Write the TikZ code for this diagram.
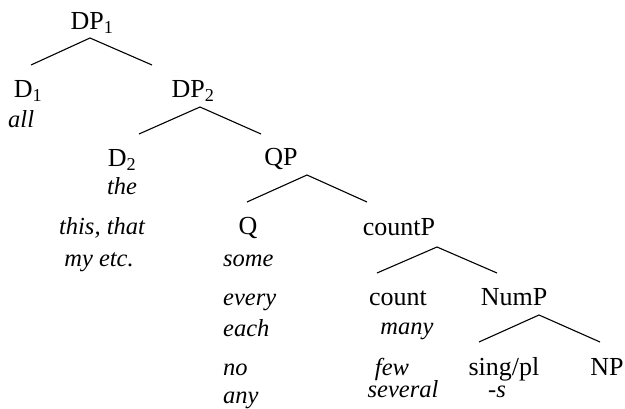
\documentclass[tikz,border=0pt]{standalone}
\usepackage{fontspec}
\setmainfont{Liberation Serif}
\begin{document}
\begin{tikzpicture}[x=1pt,y=-1pt,
  lab/.style={anchor=base,inner sep=0pt,font=\fontsize{26}{30}\selectfont},
  ex/.style={anchor=base,inner sep=0pt,font=\fontsize{24.5}{28}\selectfont\itshape},
  exl/.style={ex,anchor=base west},
  branch/.style={line width=1.1pt}]
\useasboundingbox (0,0) rectangle (625,409);
% labels
\node[lab] (dp1) at (92,30) {DP\textsubscript{1}};
\node[lab] (d1) at (28,98) {D\textsubscript{1}};
\node[exl] (all) at (8,128) {all};
\node[lab] (dp2) at (193,98) {DP\textsubscript{2}};
\node[lab] (d2) at (122,167) {D\textsubscript{2}};
\node[ex] (the) at (122,195) {the};
\node[lab] (qp) at (281,166) {QP};
\node[ex] (thisthat) at (102,235) {this, that};
\node[ex] (myetc) at (99,267) {my etc.};
\node[lab] (q) at (248,235) {Q};
\node[exl] (some) at (223,267) {some};
\node[exl] (every) at (223,306) {every};
\node[exl] (each) at (223,337) {each};
\node[exl] (no) at (223,375) {no};
\node[exl] (any) at (223,403) {any};
\node[lab] (countp) at (399,236) {countP};
\node[lab] (count) at (398,306) {count};
\node[lab] (nump) at (514,306) {NumP};
\node[ex] (many) at (407,335) {many};
\node[ex] (few) at (392,375) {few};
\node[ex] (several) at (403,397) {several};
\node[lab] (singpl) at (504,375) {sing/pl};
\node[ex] (s) at (497,397) {-s};
\node[lab] (np) at (607,375) {NP};
% branch points
\coordinate (a1) at (90,38);  \coordinate (l1) at (31,65);  \coordinate (r1) at (152,65);
\coordinate (a2) at (200,107); \coordinate (l2) at (139,134); \coordinate (r2) at (261,134);
\coordinate (a3) at (307,175); \coordinate (l3) at (247,202); \coordinate (r3) at (367,202);
\coordinate (a4) at (437,247); \coordinate (l4) at (377,273); \coordinate (r4) at (497,273);
\coordinate (a5) at (539,315); \coordinate (l5) at (479,342); \coordinate (r5) at (600,342);
\draw[branch] (l1) -- (a1) -- (r1);
\draw[branch] (l2) -- (a2) -- (r2);
\draw[branch] (l3) -- (a3) -- (r3);
\draw[branch] (l4) -- (a4) -- (r4);
\draw[branch] (l5) -- (a5) -- (r5);
\end{tikzpicture}
\end{document}
